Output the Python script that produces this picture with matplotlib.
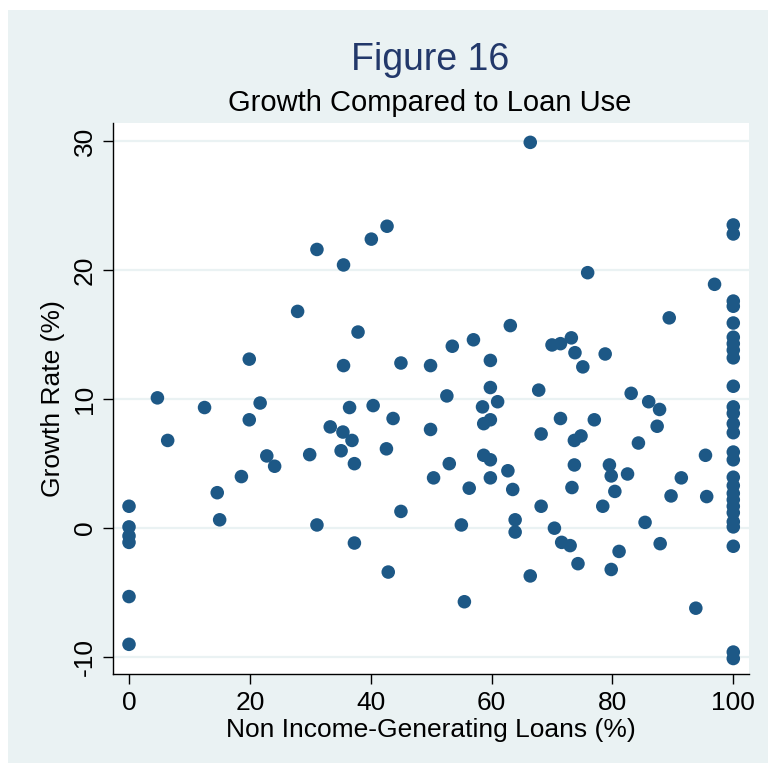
import matplotlib
matplotlib.use("Agg")
import matplotlib.pyplot as plt
from matplotlib.patches import Rectangle

# Share of loans not used for income generation (%) and growth rate (%)
loans_pct = [
    0, 0, 0, 0, 0, 0,
    4.7, 6.4, 12.5, 14.6, 15.0, 18.6, 19.9, 19.9, 21.7, 22.8, 24.1, 27.9, 29.9,
    31.1, 31.1, 33.3, 35.5, 35.5, 35.4, 35.1, 36.5, 36.9, 37.3, 37.3, 37.9,
    40.1, 40.4, 42.7, 42.6, 42.9, 43.7, 45.0, 45.0, 49.9, 49.9, 50.4,
    52.6, 53.0, 53.5, 55.0, 55.5, 56.3, 57.0, 58.5, 58.7, 59.8, 58.7, 59.8,
    59.8, 59.8, 59.8, 61.0, 62.7, 63.1, 63.5, 63.9, 63.9, 66.4, 66.4,
    67.8, 68.2, 68.2, 70.0, 70.4, 71.4, 71.4, 71.6, 73.0, 73.2, 73.8, 73.7,
    74.8, 73.7, 73.3, 74.3, 75.1, 75.9, 77.0, 78.4, 78.8, 79.5, 79.8, 79.8,
    80.4, 81.1, 82.5, 83.1, 84.3, 85.4, 86.0, 87.8, 87.4, 87.9, 89.4, 89.7,
    91.4, 93.8, 95.4, 95.6, 96.9,
    100, 100, 100, 100, 100, 100, 100, 100, 100, 100, 100, 100, 100, 100,
    100, 100, 100, 100, 100, 100, 100, 100, 100, 100, 100, 100, 100,
]
growth_pct = [
    1.7, 0.1, -0.6, -1.1, -5.3, -9.0,
    10.1, 6.8, 9.35, 2.75, 0.65, 4.0, 13.1, 8.4, 9.7, 5.6, 4.8, 16.8, 5.7,
    21.6, 0.25, 7.85, 20.4, 12.6, 7.45, 6.0, 9.35, 6.8, 5.0, -1.15, 15.2,
    22.4, 9.5, 23.4, 6.15, -3.4, 8.5, 12.8, 1.3, 12.6, 7.65, 3.9,
    10.25, 5.0, 14.1, 0.25, -5.7, 3.1, 14.6, 9.4, 8.1, 8.4, 5.65, 5.3,
    3.9, 13.0, 10.9, 9.8, 4.45, 15.7, 3.0, 0.65, -0.3, 29.9, -3.7,
    10.7, 7.3, 1.7, 14.2, 0.0, 14.3, 8.5, -1.1, -1.35, 14.75, 13.6, 6.8,
    7.15, 4.9, 3.15, -2.75, 12.5, 19.8, 8.4, 1.7, 13.5, 4.9, 4.05, -3.2,
    2.85, -1.8, 4.2, 10.45, 6.6, 0.45, 9.8, 9.2, 7.9, -1.2, 16.3, 2.5,
    3.9, -6.2, 5.65, 2.45, 18.9,
    23.5, 22.8, 17.6, 17.2, 15.9, 14.8, 14.3, 13.8, 13.2, 11.0, 9.4, 8.9,
    8.1, 7.4, 5.9, 5.3, 3.95, 3.3, 2.7, 2.2, 1.7, 0.5, 0.1, -1.4, -9.6, -10.1,
    1.2,
]

x_ticks = [0, 20, 40, 60, 80, 100]
y_ticks = [-10, 0, 10, 20, 30]

title = "Figure 16"
subtitle = "Growth Compared to Loan Use"
x_label = "Non Income-Generating Loans (%)"
y_label = "Growth Rate (%)"

plt.rcParams["font.family"] = ["Liberation Sans", "DejaVu Sans"]
plt.rcParams["axes.unicode_minus"] = False

W, H = 768, 773
fig = plt.figure(figsize=(W / 100, H / 100), dpi=100, facecolor="white")

panel_color = "#EAF2F3"
# graph region panel behind the plot area
bg = fig.add_axes([0, 0, 1, 1], zorder=0)
bg.set_axis_off()
bg.set_xlim(0, W)
bg.set_ylim(H, 0)
bg.add_patch(Rectangle((8, 10), W - 8, 753, facecolor=panel_color, edgecolor="none"))

left, right, top, bottom = 113, 749, 123, 674
ax = fig.add_axes([left / W, (H - bottom) / H, (right - left) / W, (bottom - top) / H], zorder=1)
ax.set_facecolor("white")

ax.scatter(loans_pct, growth_pct, s=95, color="#1D5886", edgecolors="none", zorder=3)

ax.set_xlim(-2.65, 102.6)
ax.set_ylim(-11.3, 31.4)
ax.set_xticks(x_ticks)
ax.set_yticks(y_ticks)
ax.grid(axis="y", color=panel_color, linewidth=1.6, zorder=1)
ax.grid(axis="x", visible=False)

for side in ("top", "right"):
    ax.spines[side].set_visible(False)
for side in ("left", "bottom"):
    ax.spines[side].set_color("black")
    ax.spines[side].set_linewidth(1.0)

ax.tick_params(axis="both", direction="out", length=7.5, width=1.0, color="black",
               labelsize=19, labelcolor="black")
ax.tick_params(axis="x", pad=5)
ax.tick_params(axis="y", pad=4)
for lbl in ax.get_yticklabels():
    lbl.set_rotation(90)
    lbl.set_va("center")

ax.set_xlabel(x_label, fontsize=19, labelpad=2)
ax.set_ylabel(y_label, fontsize=19, labelpad=6)

fig.text(430 / W, 1 - 60 / H, title, ha="center", va="center", fontsize=27, color="#22386A")
fig.text(430 / W, 1 - 103 / H, subtitle, ha="center", va="center", fontsize=21, color="black")

fig.savefig("out.png", dpi=100, facecolor="white")
